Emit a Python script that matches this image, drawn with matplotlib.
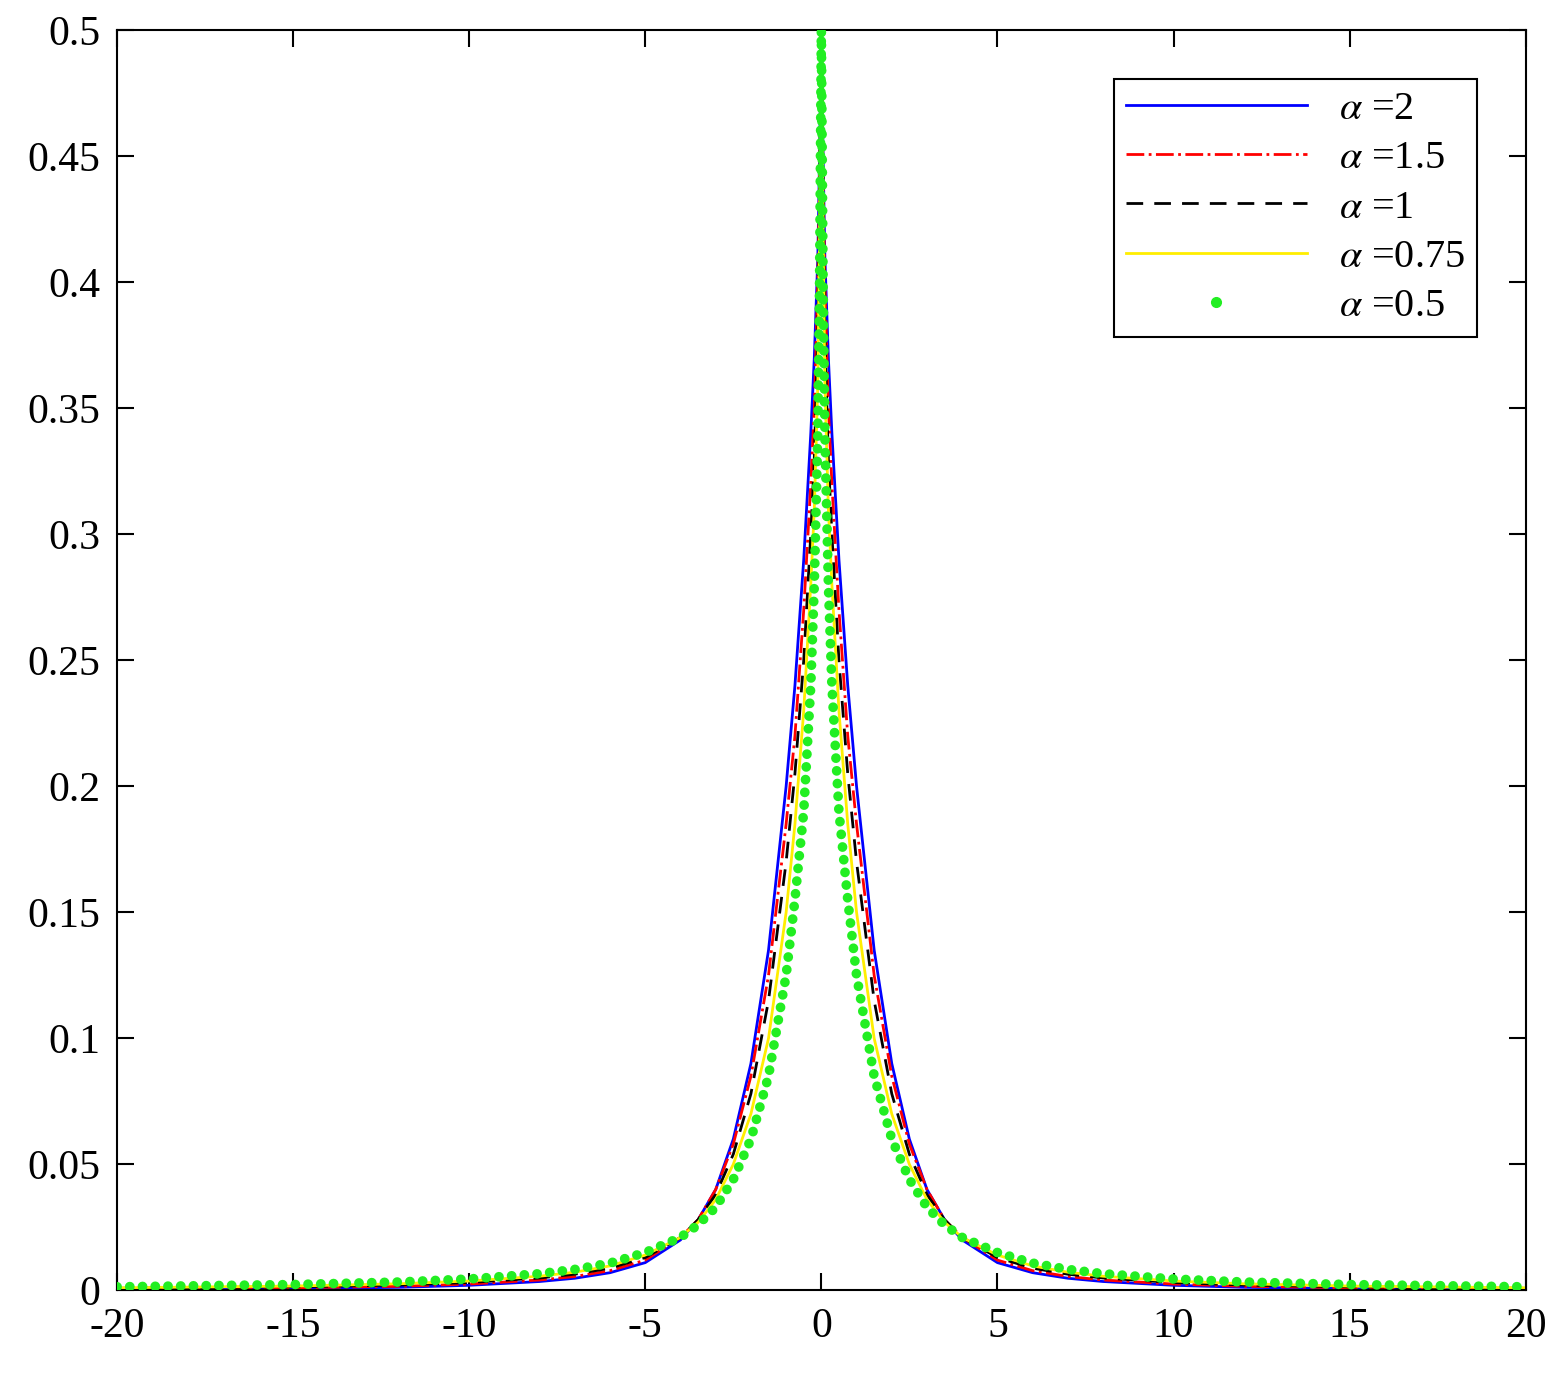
import matplotlib.pyplot as plt

plt.rcParams['font.family'] = ['Liberation Serif', 'DejaVu Serif']
plt.rcParams['mathtext.fontset'] = 'stix'
plt.rcParams['axes.unicode_minus'] = False

# positive half of each curve (curves are symmetric about 0)
x_pos = [0.0, 0.05, 0.1, 0.2, 0.3, 0.5, 0.75, 1.0, 1.5, 2.0, 2.5, 3.0, 3.5, 4.0,
         5.0, 6.0, 7.0, 8.0, 10.0, 12.0, 15.0, 20.0]
y_a2 = [0.50, 0.45, 0.41, 0.37, 0.34, 0.29, 0.24, 0.20, 0.135, 0.090, 0.060, 0.040,
        0.028, 0.020, 0.011, 0.0070, 0.0048, 0.0035, 0.0020, 0.0012, 0.0007, 0.0003]
y_a15 = [0.50, 0.44, 0.40, 0.35, 0.32, 0.27, 0.22, 0.185, 0.125, 0.085, 0.058, 0.040,
         0.028, 0.021, 0.012, 0.0078, 0.0055, 0.0041, 0.0025, 0.0016, 0.0010, 0.0005]
y_a1 = [0.50, 0.43, 0.38, 0.33, 0.30, 0.25, 0.205, 0.17, 0.115, 0.078, 0.054, 0.038,
        0.028, 0.021, 0.013, 0.0088, 0.0064, 0.0049, 0.0031, 0.0021, 0.0014, 0.0008]
y_a075 = [0.50, 0.42, 0.36, 0.31, 0.28, 0.23, 0.185, 0.15, 0.10, 0.070, 0.050, 0.036,
          0.027, 0.021, 0.014, 0.0097, 0.0072, 0.0056, 0.0037, 0.0026, 0.0017, 0.0010]
y_a05 = [0.50, 0.40, 0.34, 0.28, 0.24, 0.19, 0.155, 0.125, 0.085, 0.060, 0.044, 0.033,
         0.026, 0.021, 0.015, 0.0108, 0.0083, 0.0066, 0.0045, 0.0033, 0.0023, 0.0014]

def mirror(xs, ys):
    return [-v for v in xs[:0:-1]] + xs, ys[:0:-1] + ys

fig = plt.figure(figsize=(15.6, 13.83), dpi=100)
ax = fig.add_axes([0.075, 0.067, 0.903, 0.911])

x, y = mirror(x_pos, y_a2)
ax.plot(x, y, color='blue', lw=2, label=r'$\alpha$ =2')
x, y = mirror(x_pos, y_a15)
ax.plot(x, y, color='red', lw=2, ls='-.', label=r'$\alpha$ =1.5')
x, y = mirror(x_pos, y_a1)
ax.plot(x, y, color='black', lw=2, ls=(0, (6, 4)), label=r'$\alpha$ =1')
x, y = mirror(x_pos, y_a05)
ax.plot(x, y, color='#22ee22', lw=7, ls=(0, (0.01, 1.3)), dash_capstyle='round',
        solid_capstyle='round', zorder=3)
x, y = mirror(x_pos, y_a075)
ax.plot(x, y, color='#ffee00', lw=2, label=r'$\alpha$ =0.75', zorder=2)
ax.plot([], [], color='#22ee22', marker='o', ms=7, ls='none', label=r'$\alpha$ =0.5')

ax.set_xlim(-20, 20)
ax.set_ylim(0, 0.5)
ax.set_xticks(range(-20, 21, 5))
ax.set_yticks([0, 0.05, 0.1, 0.15, 0.2, 0.25, 0.3, 0.35, 0.4, 0.45, 0.5])
ax.set_yticklabels(['0', '0.05', '0.1', '0.15', '0.2', '0.25', '0.3', '0.35', '0.4', '0.45', '0.5'])
ax.tick_params(direction='in', top=True, right=True, labelsize=30, length=12, width=1.5, pad=12)
for s in ax.spines.values():
    s.set_linewidth(1.5)
leg = ax.legend(loc='upper right', fontsize=29, fancybox=False, edgecolor='black',
                framealpha=1, handlelength=4.5, borderaxespad=1.2, labelspacing=0.3,
                borderpad=0.3)
leg.get_frame().set_linewidth(1.5)

fig.savefig('out.png', dpi=100)
